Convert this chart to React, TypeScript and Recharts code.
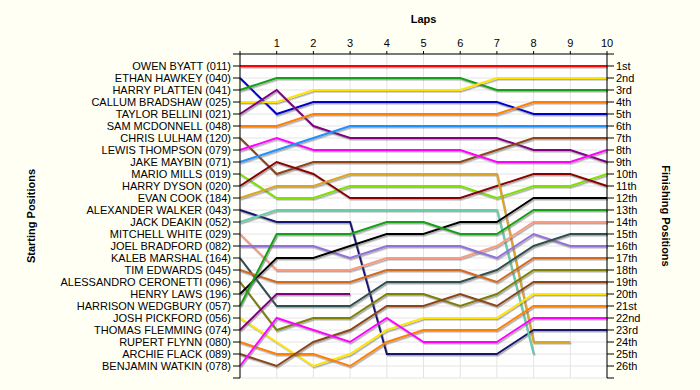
import { LineChart, Line, XAxis, YAxis, CartesianGrid } from 'recharts'

const FONT = '"Liberation Sans", Arial, sans-serif'

const laps = [0, 1, 2, 3, 4, 5, 6, 7, 8, 9, 10]
const lapTicks = laps
const posTicks = Array.from({ length: 28 }, (_, i) => i)

const startNames = [
  'OWEN BYATT (011)',
  'ETHAN HAWKEY (040)',
  'HARRY PLATTEN (041)',
  'CALLUM BRADSHAW (025)',
  'TAYLOR BELLINI (021)',
  'SAM MCDONNELL (048)',
  'CHRIS LULHAM (120)',
  'LEWIS THOMPSON (079)',
  'JAKE MAYBIN (071)',
  'MARIO MILLS (019)',
  'HARRY DYSON (020)',
  'EVAN COOK (184)',
  'ALEXANDER WALKER (043)',
  'JACK DEAKIN (052)',
  'MITCHELL WHITE (029)',
  'JOEL BRADFORD (082)',
  'KALEB MARSHAL (164)',
  'TIM EDWARDS (045)',
  'ALESSANDRO CERONETTI (096)',
  'HENRY LAWS (196)',
  'HARRISON WEDGBURY (057)',
  'JOSH PICKFORD (056)',
  'THOMAS FLEMMING (074)',
  'RUPERT FLYNN (080)',
  'ARCHIE FLACK (089)',
  'BENJAMIN WATKIN (078)',
]

const finishLabels = [
  '1st', '2nd', '3rd', '4th', '5th', '6th', '7th', '8th', '9th', '10th',
  '11th', '12th', '13th', '14th', '15th', '16th', '17th', '18th', '19th', '20th',
  '21st', '22nd', '23rd', '24th', '25th', '26th',
]

const lineColors = [
  '#ff0000', '#0000cd', '#12a012', '#ffe500', '#800080', '#ff8000', '#8b4513',
  '#ff00ff', '#1e90ff', '#80e000', '#8b0000', '#daa520', '#191970', '#66cdaa',
  '#fa9a80', '#9370db', '#2f4f4f', '#d2691e', '#808000', '#000000', '#12a012',
  '#ffe500', '#800080', '#ff8000', '#8b4513', '#ff00ff',
]

// position of each driver after lap 0..10 (null = retired)
const lapPositions: (number | null)[][] = [
  [1, 1, 1, 1, 1, 1, 1, 1, 1, 1, 1],
  [2, 5, 4, 4, 4, 4, 4, 4, 5, 5, 5],
  [3, 2, 2, 2, 2, 2, 2, 3, 3, 3, 3],
  [4, 4, 3, 3, 3, 3, 3, 2, 2, 2, 2],
  [5, 3, 6, 7, 7, 7, 7, 7, 8, 8, 9],
  [6, 6, 5, 5, 5, 5, 5, 5, 4, 4, 4],
  [7, 10, 9, 9, 9, 9, 9, 8, 7, 7, 7],
  [8, 7, 8, 8, 8, 8, 8, 9, 9, 9, 8],
  [9, 8, 7, 6, 6, 6, 6, 6, 6, 6, 6],
  [10, 12, 12, 11, 11, 11, 11, 12, 11, 11, 10],
  [11, 9, 10, 12, 12, 12, 12, 11, 10, 10, 11],
  [12, 11, 11, 10, 10, 10, 10, 10, 24, 24, null],
  [13, 14, 14, 14, 25, 25, 25, 25, 23, 23, 23],
  [14, 13, 13, 13, 13, 13, 13, 13, 25, null, null],
  [15, 18, 18, 18, 17, 17, 17, 16, 14, 14, 14],
  [16, 16, 16, 17, 16, 16, 16, 17, 15, 16, 16],
  [17, 21, 21, 21, 19, 19, 19, 18, 16, 15, 15],
  [18, 19, 19, 19, 18, 18, 18, 19, 17, 17, 17],
  [19, 23, 22, 22, 20, 20, 21, 20, 18, 18, 18],
  [20, 17, 17, 16, 15, 15, 14, 14, 12, 12, 12],
  [21, 15, 15, 15, 14, 14, 15, 15, 13, 13, 13],
  [22, 24, 26, 25, 23, 22, 22, 22, 20, 20, 20],
  [23, 20, 20, 20, null, null, null, null, null, null, null],
  [24, 25, 25, 26, 24, 23, 23, 23, 21, 21, 21],
  [25, 26, 24, 23, 21, 21, 20, 21, 19, 19, 19],
  [26, 22, 23, 24, 22, 24, 24, 24, 22, 22, 22],
]

const data = laps.map((lap, i) => {
  const row: Record<string, number | null> = { lap }
  lapPositions.forEach((p, d) => { row['d' + d] = p[i] ?? null })
  return row
})

function VerticalTitle({ viewBox, text, x, angle }: any) {
  const cy = viewBox.y + viewBox.height / 2
  return (
    <text
      x={x}
      y={cy}
      transform={`rotate(${angle} ${x} ${cy})`}
      textAnchor="middle"
      dominantBaseline="central"
      fontFamily={FONT}
      fontSize={11}
      fontWeight="bold"
      fill="#000"
    >
      {text}
    </text>
  )
}

export default function App() {
  const tickStyle = { fill: '#000', fontSize: 11, fontFamily: FONT }
  return (
    <div style={{ position: 'absolute', left: 0, top: 0, width: 700, height: 390, background: '#fffff4' }}>
      <svg width={0} height={0} style={{ position: 'absolute' }}>
        <defs>
          <filter id="lapShadow" filterUnits="userSpaceOnUse" x={0} y={0} width={700} height={390}>
            <feDropShadow dx={1} dy={1.5} stdDeviation={0.4} floodColor="#666" floodOpacity={0.55} />
          </filter>
        </defs>
      </svg>
      <style>{'.recharts-line-curve{filter:url(#lapShadow)}'}</style>
      <LineChart width={700} height={390} data={data} margin={{ top: 0, right: 0, bottom: 12, left: 0 }}>
        <CartesianGrid yAxisId="left" stroke="#e4e4e4" fill="#ffffff" />
        <XAxis
          dataKey="lap"
          type="number"
          orientation="top"
          domain={[0, 10]}
          ticks={lapTicks}
          interval={0}
          height={54}
          tickSize={3}
          tickMargin={4}
          tickFormatter={(v: number) => (v === 0 ? '' : String(v))}
          tick={tickStyle}
          axisLine={{ stroke: '#000' }}
          tickLine={{ stroke: '#000' }}
          label={{
            position: 'insideTop',
            content: ({ viewBox }: any) => (
              <text
                x={viewBox.x + viewBox.width / 2}
                y={23}
                textAnchor="middle"
                fontFamily={FONT}
                fontSize={11}
                fontWeight="bold"
                fill="#000"
              >
                Laps
              </text>
            ),
          }}
        />
        <YAxis
          yAxisId="left"
          type="number"
          domain={[0, 27]}
          reversed
          ticks={posTicks}
          interval={0}
          width={240}
          tickSize={7}
          tickMargin={2}
          tickFormatter={(v: number) => startNames[v - 1] ?? ''}
          tick={tickStyle}
          axisLine={{ stroke: '#000' }}
          tickLine={{ stroke: '#000' }}
          label={{
            position: 'insideLeft',
            content: (p: any) => <VerticalTitle viewBox={p.viewBox} text="Starting Positions" x={31} angle={-90} />,
          }}
        />
        <YAxis
          yAxisId="right"
          orientation="right"
          type="number"
          domain={[0, 27]}
          reversed
          ticks={posTicks}
          interval={0}
          width={93}
          tickSize={7}
          tickMargin={2}
          tickFormatter={(v: number) => finishLabels[v - 1] ?? ''}
          tick={tickStyle}
          axisLine={{ stroke: '#000' }}
          tickLine={{ stroke: '#000' }}
          label={{
            position: 'insideRight',
            content: (p: any) => <VerticalTitle viewBox={p.viewBox} text="Finishing Positions" x={666} angle={90} />,
          }}
        />
        {startNames.map((name, d) => (
          <Line
            key={name}
            name={name}
            yAxisId={d === 0 ? 'right' : 'left'}
            type="linear"
            dataKey={'d' + d}
            stroke={lineColors[d]}
            strokeWidth={2}
            dot={false}
            activeDot={false}
            connectNulls={false}
            isAnimationActive={false}
          />
        ))}
      </LineChart>
    </div>
  )
}
